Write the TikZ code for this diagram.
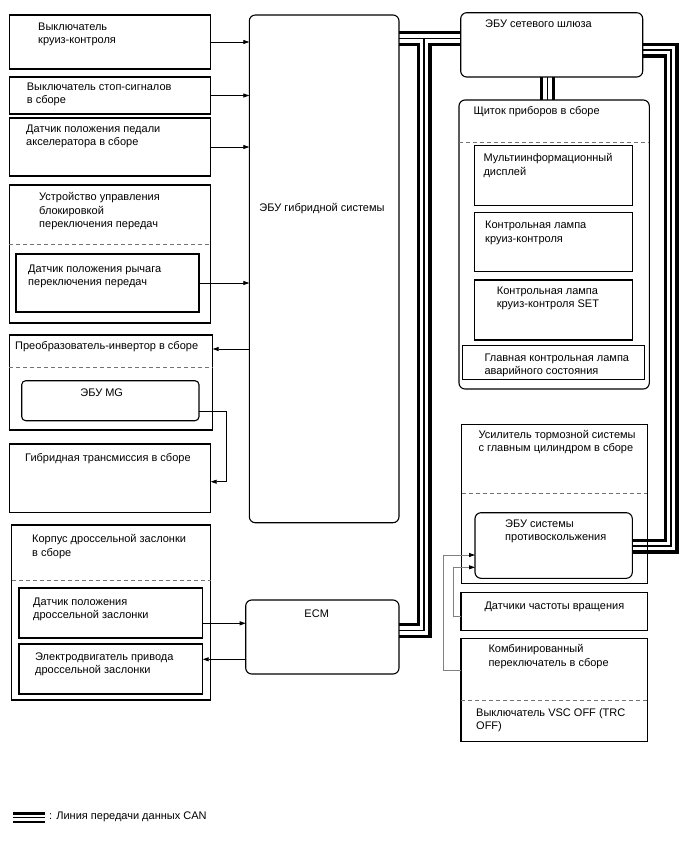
\documentclass[tikz,border=0pt]{standalone}
\usepackage{fontspec}
\setmainfont{Liberation Sans}
\usetikzlibrary{arrows.meta}
\pgfdeclarelayer{bg}
\pgfsetlayers{bg,main}
\tikzset{
 box/.style={draw=black, line width=1.1pt, inner sep=0pt, outer sep=0pt},
 rbox/.style={box, rounded corners=6pt},
 lbl/.style={anchor=north west, inner sep=0pt, align=left, yshift=-1.5pt, font=\fontsize{11}{13.3}\selectfont},
 clbl/.style={anchor=north, inner sep=0pt, align=center, yshift=-1.5pt, font=\fontsize{11}{13.3}\selectfont},
 dashline/.style={draw=black!55, line width=0.8pt, dash pattern=on 4pt off 3pt},
 sig/.style={line width=0.8pt, -{Triangle[length=6pt,width=4pt]}},
 sigg/.style={draw=black!50, line width=0.8pt, -{Triangle[length=6pt,width=4pt,color=black]}},
 canA/.style={line width=15pt, black},
 canB/.style={line width=8.5pt, white},
 canC/.style={line width=1.4pt, black},
}
\newcommand\mybox[6]{\node[#6, minimum width={(#4-#2)*1pt}, minimum height={(#5-#3)*1pt}] (#1) at ({(#2+#4)/2},{(#3+#5)/2}) {};}
\newcommand\canpaths[1]{%
 \draw[#1] (hyb.east |- j1) -- (gw.west |- j1);
 \draw[#1] (j1) -- (c1) -- (ecm.east |- c1);
 \draw[#1] (gw.east |- c2) -- (c2) -- (c3) -- (abs.east |- c3);
 \draw[#1] (gw.south -| c4) -- (cl.north -| c4);
}
\begin{document}
\begin{tikzpicture}[x=1pt,y=-1pt]
\useasboundingbox (0,0) rectangle (688,852);
% boxes
\mybox{a}{9.3}{15}{210.7}{69}{box}
\mybox{b}{9.3}{77}{210.7}{114}{box}
\mybox{c}{9.3}{118}{210.7}{176}{box}
\mybox{d}{9.3}{185}{210.7}{323}{box}
\mybox{di}{16}{254}{199}{312}{box}
\mybox{e}{9.3}{335}{212.7}{430}{box}
\mybox{mg}{21.7}{380.7}{199}{420.7}{box, rounded corners=4pt}
\mybox{f}{9.3}{444}{210.7}{512.7}{box}
\mybox{g}{11.7}{525}{210.7}{700}{box}
\mybox{ga}{19}{588}{202.7}{638}{box}
\mybox{gb}{19}{644}{202.7}{694}{box}
\mybox{hyb}{249.3}{15}{399}{522.7}{rbox}
\mybox{ecm}{245.7}{600}{399}{674}{rbox}
\mybox{gw}{460.7}{12.7}{642.7}{77}{rbox}
\mybox{cl}{459}{100}{649.3}{389}{rbox}
\mybox{mid}{474.3}{145.7}{632.3}{205.7}{box}
\mybox{la}{474.3}{212.3}{632.7}{271.7}{box}
\mybox{ls}{474.3}{280}{632.7}{340}{box}
\mybox{mw}{462.3}{345.7}{644.3}{379.3}{box}
\mybox{br}{461.7}{424.3}{647.3}{583.3}{box}
\mybox{abs}{475}{512.7}{632.3}{578.3}{rbox}
\mybox{ws}{461}{592.7}{647.3}{630.7}{box}
\mybox{cs}{461}{638.3}{647.3}{741.7}{box}
% dashed separators
\draw[dashline] (d.west |- 0,244) -- (d.east |- 0,244);
\draw[dashline] (e.west |- 0,367) -- (e.east |- 0,367);
\draw[dashline] (g.west |- 0,580.7) -- (g.east |- 0,580.7);
\draw[dashline] (cl.west |- 0,142.7) -- (cl.east |- 0,142.7);
\draw[dashline] (br.west |- 0,493.3) -- (br.east |- 0,493.3);
\draw[dashline] (cs.west |- 0,700.7) -- (cs.east |- 0,700.7);
% labels
\node[lbl] (ta) at (38,21) {Выключатель\\круиз-контроля};
\node[lbl] (tb) at (26.7,81) {Выключатель стоп-сигналов\\в сборе};
\node[lbl] (tc) at (26,123) {Датчик положения педали\\акселератора в сборе};
\node[lbl] (td) at (39,191) {Устройство управления\\блокировкой\\переключения передач};
\node[lbl] (tdi) at (28,263) {Датчик положения рычага\\переключения передач};
\node[lbl] (te) at (15,340) {Преобразователь-инвертор в сборе};
\node[clbl] (tmg) at (101.7,387) {ЭБУ MG};
\node[lbl] (tf) at (25,452) {Гибридная трансмиссия в сборе};
\node[lbl] (tg) at (32,533) {Корпус дроссельной заслонки\\в сборе};
\node[lbl] (tga) at (33,596) {Датчик положения\\дроссельной заслонки};
\node[lbl] (tgb) at (35,651) {Электродвигатель привода\\дроссельной заслонки};
\node[clbl] (thyb) at (322,202) {ЭБУ гибридной системы};
\node[clbl] (tecm) at (316.7,608.5) {ECM};
\node[lbl] (tgw) at (485,18.5) {ЭБУ сетевого шлюза};
\node[lbl] (tcl) at (473.3,105) {Щиток приборов в сборе};
\node[lbl] (tmid) at (483.3,152) {Мультиинформационный\\дисплей};
\node[lbl] (tla) at (485,219.5) {Контрольная лампа\\круиз-контроля};
\node[lbl] (tls) at (496.7,285) {Контрольная лампа\\круиз-контроля SET};
\node[lbl] (tmw) at (484.3,352) {Главная контрольная лампа\\аварийного состояния};
\node[lbl] (tbr) at (478.3,428.5) {Усилитель тормозной системы\\с главным цилиндром в сборе};
\node[lbl] (tabs) at (505,518) {ЭБУ системы\\противоскольжения};
\node[lbl] (tws) at (484.3,600) {Датчики частоты вращения};
\node[lbl] (tcs) at (488.3,643) {Комбинированный\\переключатель в сборе};
\node[lbl] (tvsc) at (476,707) {Выключатель VSC OFF (TRC\\OFF)};
% signal connectors
\draw[sig] (a.east) -- (hyb.west |- a.east);
\draw[sig] (b.east) -- (hyb.west |- b.east);
\draw[sig] (c.east) -- (hyb.west |- c.east);
\draw[sig] (di.east) -- (hyb.west |- di.east);
\coordinate (ey) at (230,349);
\draw[sig] (hyb.west |- ey) -- (e.east |- ey);
\coordinate (m1) at (226.7,411);
\coordinate (m2) at (226.7,481.7);
\draw[sig] (mg.east |- m1) -- (m1) -- (m2) -- (f.east |- m2);
\coordinate (t1) at (225,623.3);
\coordinate (t2) at (225,659.3);
\draw[sig] (ga.east |- t1) -- (ecm.west |- t1);
\draw[sig] (ecm.west |- t2) -- (gb.east |- t2);
\coordinate (r1) at (443.3,670);
\coordinate (r2) at (443.3,555);
\draw[sigg] (cs.west |- r1) -- (r1) -- (r2) -- (abs.west |- r2);
\coordinate (s1) at (453.3,616);
\coordinate (s2) at (453.3,567.3);
\draw[sigg] (ws.west |- s1) -- (s1) -- (s2) -- (abs.west |- s2);
% CAN bus
\coordinate (j1) at (424,38.5);
\coordinate (c1) at (424,630.5);
\coordinate (c2) at (671,50);
\coordinate (c3) at (671,546);
\coordinate (c4) at (547.5,80);
\coordinate (l1) at (13,817.5);
\coordinate (l2) at (45,817.5);
\begin{pgfonlayer}{bg}
\fill[white] (0,0) rectangle (688,852);
\canpaths{canA}
\canpaths{canB}
\canpaths{canC}
\draw[canA, line width=11pt] (l1) -- (l2);
\draw[canB, line width=6pt] (l1) -- (l2);
\draw[canC, line width=1.3pt] (l1) -- (l2);
\end{pgfonlayer}
\node[anchor=west, inner sep=0pt, font=\fontsize{11}{13.3}\selectfont] (tleg) at (49,817) {: Линия передачи данных CAN};
\end{tikzpicture}
\end{document}
